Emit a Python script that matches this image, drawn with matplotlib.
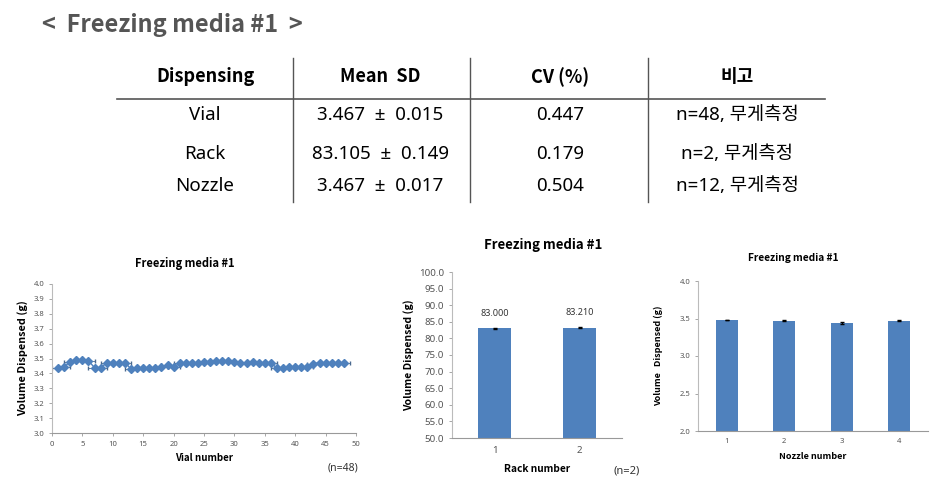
import numpy as np
import matplotlib
matplotlib.use("Agg")
import matplotlib.pyplot as plt

plt.rcParams['font.family'] = ['Noto Sans CJK KR', 'DejaVu Sans']
body_font = ['Noto Sans', 'Noto Sans CJK KR', 'DejaVu Sans']

# table data
tbl_header = ['Dispensing', 'Mean  SD', 'CV (%)', '비고']
tbl_rows = [['Vial', '3.467  ±  0.015', '0.447', 'n=48, 무게측정'],
            ['Rack', '83.105  ±  0.149', '0.179', 'n=2, 무게측정'],
            ['Nozzle', '3.467  ±  0.017', '0.504', 'n=12, 무게측정']]

# vial weights (g)
vial_no = np.arange(1, 49)
vial_w = [3.434, 3.443, 3.479, 3.490, 3.490, 3.485, 3.438, 3.436, 3.472, 3.472,
          3.472, 3.472, 3.430, 3.434, 3.436, 3.438, 3.438, 3.443, 3.456, 3.440,
          3.470, 3.472, 3.472, 3.472, 3.479, 3.479, 3.485, 3.483, 3.483, 3.479,
          3.472, 3.472, 3.474, 3.472, 3.472, 3.472, 3.434, 3.436, 3.440, 3.440,
          3.440, 3.443, 3.465, 3.472, 3.472, 3.472, 3.472, 3.472]

# rack weights
rack_no = ['1', '2']
rack_w = [83.000, 83.210]
rack_err = [0.10, 0.10]

# nozzle weights
nozzle_no = ['1', '2', '3', '4']
nozzle_w = [3.480, 3.472, 3.440, 3.470]
nozzle_err = [0.006, 0.008, 0.008, 0.005]

blue = '#4F81BD'
W, H = 938, 496

fig = plt.figure(figsize=(9.38, 4.96), dpi=100)

def px(x, y):
    return x / W, 1 - y / H

def box(l, t, r, b):
    return [l / W, 1 - b / H, (r - l) / W, (b - t) / H]

# main title
fig.text(*px(42, 25), '<  Freezing media #1  >', fontsize=17, fontweight='bold',
         color='#555555', ha='left', va='center')

# table
col_x = [205, 380, 560, 737]
for cx, h in zip(col_x, tbl_header):
    fig.text(*px(cx, 77), h, fontsize=13, fontweight='bold', ha='center', va='center')
row_y = [115, 154, 186]
for ry, row in zip(row_y, tbl_rows):
    for cx, s in zip(col_x, row):
        fig.text(*px(cx, ry), s, fontsize=13.5, ha='center', va='center', family=body_font)
fig.add_artist(plt.Line2D([117 / W, 825 / W], [1 - 99 / H] * 2, color='#555555', lw=1.2))
for vx in [293, 470, 648]:
    fig.add_artist(plt.Line2D([vx / W] * 2, [1 - 58 / H, 1 - 202 / H], color='#555555', lw=1))

def style(ax, size=5.5):
    for s in ['top', 'right']:
        ax.spines[s].set_visible(False)
    ax.spines['left'].set_color('#bbbbbb')
    ax.spines['bottom'].set_color('#999999')
    ax.tick_params(colors='#999999', labelcolor='#555555', labelsize=size, length=2, width=0.6)
    for lab in ax.get_xticklabels() + ax.get_yticklabels():
        lab.set_family(body_font)

# chart 1 - vials
ax1 = fig.add_axes(box(52, 284, 356, 433))
ax1.errorbar(vial_no, vial_w, xerr=1, fmt='-D', color=blue, ms=4.5, lw=1,
             elinewidth=0.6, capsize=1.5, ecolor='#4a6a90')
ax1.set_xlim(0, 50)
ax1.set_ylim(3.0, 4.0)
ax1.set_xticks(np.arange(0, 51, 5))
ax1.set_yticks(np.arange(3.0, 4.01, 0.1))
ax1.yaxis.set_major_formatter(matplotlib.ticker.FormatStrFormatter('%.1f'))
style(ax1)
ax1.set_xlabel('Vial number', fontsize=7, fontweight='bold', labelpad=4)
ax1.set_ylabel('Volume Dispensed (g)', fontsize=7.8, fontweight='bold', labelpad=4)
fig.text(*px(185, 263), 'Freezing media #1', fontsize=8, fontweight='bold', ha='center', va='center')
fig.text(*px(343, 468), '(n=48)', fontsize=7.5, color='#333333', ha='center', va='center',
         family=body_font)

# chart 2 - rack
ax2 = fig.add_axes(box(452, 272, 622, 438))
x2 = np.arange(1, len(rack_w) + 1)
ax2.bar(x2, rack_w, width=0.39, color=blue, yerr=rack_err, capsize=1.5,
        error_kw=dict(ecolor='black', elinewidth=0.8))
for x, v in zip(x2, rack_w):
    ax2.text(x, v + 4.5, f'{v:.3f}', fontsize=6.5, ha='center', va='center', color='#333333',
             family=body_font)
ax2.set_xlim(0.5, 2.5)
ax2.set_ylim(50, 100)
ax2.set_xticks(x2)
ax2.set_xticklabels(rack_no)
ax2.set_yticks(np.arange(50, 101, 5))
ax2.yaxis.set_major_formatter(matplotlib.ticker.FormatStrFormatter('%.1f'))
style(ax2, 7)
ax2.tick_params(axis='x', length=0, pad=6)
ax2.set_xlabel('Rack number', fontsize=7.3, fontweight='bold', labelpad=6)
ax2.set_ylabel('Volume Dispensed (g)', fontsize=7.5, fontweight='bold', labelpad=4)
fig.text(*px(543, 245), 'Freezing media #1', fontsize=9.5, fontweight='bold', ha='center', va='center')
fig.text(*px(627, 471), '(n=2)', fontsize=8, color='#333333', ha='center', va='center',
         family=body_font)

# chart 3 - nozzle
ax3 = fig.add_axes(box(698, 281, 928, 431))
x3 = np.arange(1, len(nozzle_w) + 1)
ax3.bar(x3, nozzle_w, width=0.39, color=blue, yerr=nozzle_err, capsize=1.2,
        error_kw=dict(ecolor='black', elinewidth=0.8))
ax3.set_xlim(0.5, 4.5)
ax3.set_ylim(2.0, 4.0)
ax3.set_xticks(x3)
ax3.set_xticklabels(nozzle_no)
ax3.set_yticks(np.arange(2.0, 4.01, 0.5))
ax3.yaxis.set_major_formatter(matplotlib.ticker.FormatStrFormatter('%.1f'))
style(ax3)
ax3.tick_params(axis='x', length=0, pad=5)
ax3.set_xlabel('Nozzle number', fontsize=6.5, fontweight='bold', labelpad=5)
ax3.set_ylabel('Volume   Dispensed (g)', fontsize=6.5, fontweight='bold', labelpad=12)
fig.text(*px(793, 258), 'Freezing media #1', fontsize=7.3, fontweight='bold', ha='center', va='center')

fig.savefig('out.png', dpi=100, facecolor='white')
